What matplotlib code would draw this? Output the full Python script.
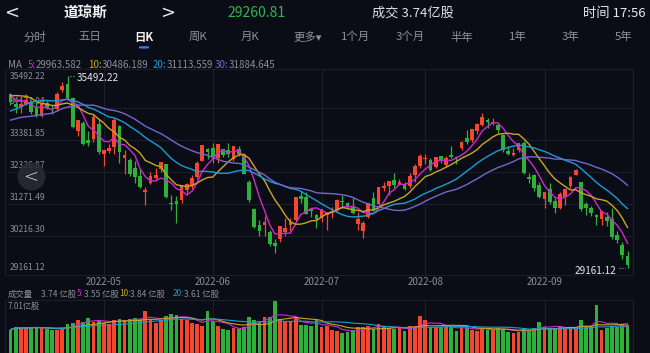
import numpy as np
import matplotlib
matplotlib.use('Agg')
import matplotlib.pyplot as plt
from matplotlib.patches import Ellipse, FancyBboxPatch
import matplotlib.transforms as mtransforms

plt.rcParams['font.family'] = ['Noto Sans CJK SC', 'DejaVu Sans']

# ---------------- data ----------------
# closes before the window (only used to warm up the moving averages)
warmup_close = [33596.61, 33131.76, 33223.83, 34058.75, 33892.60, 33294.95, 33891.35, 33794.66,
                33614.80, 32817.38, 32632.64, 33286.25, 33174.07, 32944.19, 32945.24, 33544.34,
                34063.10, 34480.76, 34754.93, 34552.99, 34807.46, 34358.50, 34707.94, 34861.24,
                34955.89, 35294.19, 35228.81, 34678.35, 34818.27, 34921.88]

closes = [34641.18, 34496.51, 34583.57, 34721.12, 34308.08, 34220.36, 34564.59, 34451.23, 34411.69,
          34911.20, 35160.79, 34792.76, 33811.40, 34049.46, 33240.18, 33301.93, 34160.78, 32977.21,
          33061.50, 33128.79, 34061.06, 32997.97, 32899.37, 32245.70, 32160.74, 31834.11, 31730.30,
          32196.66, 32223.42, 32654.59, 31490.07, 31253.13, 31261.90, 31880.24, 31928.62, 32120.28,
          32637.19, 33212.96, 32990.12,
          32813.23, 33248.28, 32899.70, 32915.78, 33180.14, 32910.90, 32272.79, 31392.79, 30516.74,
          30364.83, 30668.53, 29927.07, 29888.78, 30530.25, 30483.13, 30677.36, 31500.68, 31438.26,
          30946.99, 31029.31, 30775.43,
          31097.26, 30967.82, 31037.68, 31384.55, 31338.15, 31173.84, 30981.33, 30772.79, 30630.17,
          31288.26, 31072.61, 31827.05, 31874.84, 32036.90, 31899.29, 31990.04, 31761.54, 32197.59,
          32529.63, 32845.13,
          32798.40, 32396.17, 32812.50, 32726.82, 32803.47, 32832.54, 32774.41, 33309.51, 33336.67,
          33761.05, 33912.44, 34152.01, 33980.32, 33999.04, 33706.74, 33063.61, 32909.59, 32969.23,
          33291.78, 32283.40, 32098.99, 31790.87, 31510.43,
          31656.42, 31318.44, 31145.30, 31581.28, 31774.52, 32151.71, 32381.34, 31104.97, 31135.09,
          30961.82, 30822.42, 31019.68, 30706.23, 30183.78, 30076.68, 29590.41, 29260.81]

opens = [34897, 34580, 34470, 34575, 34650, 34496, 34177, 34618, 34414, 34414, 35028, 35257, 34774,
         33701, 33950, 33381, 33405, 33915,
         32931, 33027, 33145, 33860, 32780, 32727, 32452, 32209, 31653, 31960, 32134, 32430, 32580,
         31309, 31374, 31407, 31724, 31849, 32169, 32706, 33083,
         33128, 32788, 33080, 33054, 32759, 33084, 32849, 32000, 31100, 30587, 30580, 30328, 29974,
         30100, 30350, 30565, 30750, 31517, 31510, 31100, 30918,
         30794, 30900, 30960, 31065, 31380, 31290, 31200, 30617, 30380, 30848, 31450, 31265, 31810,
         31850, 32053, 31922, 31905, 31850, 32212, 32540,
         32745, 32722, 32500, 32840, 32569, 32900, 32830, 33125, 33460, 33400, 33685, 33894, 34053,
         33955, 33891, 33560, 33034, 32878, 33062, 33303, 32150, 32230, 31880,
         31448, 31757, 31352, 31150, 31500, 31859, 32240, 31990, 31250, 31150, 30900, 30755, 30830,
         30780, 30223, 29910, 29550]

highs = [34948, 34648, 34631, 34895, 34697, 34709, 34638, 34691, 34551, 34963, 35299, 35492.22, 34827,
         34055, 34020, 33674, 34235, 34073,
         33086, 33254, 34117, 33896, 33057, 32775, 32681, 32420, 31833, 32311, 32445, 32663, 32600,
         31579, 31528, 31902, 31968, 32217, 32699, 33213, 33130,
         33274, 33254, 33087, 33272, 33193, 33195, 32952, 32050, 31150, 30724, 30879, 30400, 30101,
         30553, 30807, 30805, 31509, 31709, 31672, 31146, 30942,
         31111, 31000, 31176, 31425, 31580, 31326, 31450, 30985, 30700, 31300, 31658, 31827, 32000,
         32036, 32281, 32081, 32004, 32300, 32590, 32910,
         32923, 32796, 32830, 32858, 32866, 33202, 32867, 33365, 33708, 33762, 33961, 34281, 34118,
         34113, 33945, 33600, 33172, 33111, 33300, 33364, 32290, 32273, 32000,
         31674, 31965, 31481, 31652, 31802, 32180, 32434, 32000, 31330, 31200, 30950, 31038, 31000,
         31125, 30380, 30000, 29700]

lows = [34546, 34277, 34289, 34540, 34253, 34161, 34155, 34424, 34263, 34355, 34961, 34706, 33776,
        33528, 33230, 33190, 33334, 32913,
        32537, 32970, 32937, 32632, 32273, 32198, 31958, 31806, 31228, 31937, 32051, 32332, 31453,
        31060, 30635.76, 31311, 31605, 31766, 32106, 32700, 32741,
        32626, 32635, 32839, 32823, 32694, 32840, 32270, 31339, 30478, 30206, 30221, 29861, 29653,
        30011, 30213, 30366, 30700, 31304, 30932, 30846, 30468,
        30686, 30400, 30808, 31000, 31150, 31098, 30950, 30400, 30143, 30800, 31020, 31200, 31700,
        31560, 31800, 31884, 31743, 31790, 32000, 32470,
        32600, 32371, 32471, 32614, 32484, 32789, 32596, 33040, 33262, 33327, 33570, 33849, 33770,
        33870, 33626, 32976, 32903, 32865, 33000, 32260, 31963, 31702, 31480,
        31150, 31270, 30977, 31092, 31234, 31800, 32216, 31050, 30900, 30857, 30587, 30587, 30550,
        30117, 29975, 29439, 29161.12]

# volume in 亿股
volumes = [3.1, 3.5, 3.3, 3.4, 3.4, 3.4, 3.3, 3.2, 3.0, 3.1, 3.3, 3.9, 4.0, 4.4, 4.1, 4.6, 4.1, 4.4,
           4.0, 3.8, 4.3, 4.5, 4.3, 4.5, 4.6, 4.5, 5.5, 4.5, 4.0, 4.3, 4.9, 5.2, 5.0, 4.5, 4.3, 4.0,
           3.8, 3.6, 5.6,
           4.2, 3.6, 3.2, 3.0, 3.3, 3.2, 3.4, 4.8, 4.4, 4.2, 4.8, 4.7, 7.01, 4.5, 4.1, 4.1, 4.6, 3.7,
           3.7, 3.6, 4.3,
           3.4, 3.6, 3.1, 2.9, 2.6, 2.8, 3.0, 3.4, 3.5, 3.6, 3.2, 3.9, 3.4, 3.3, 3.2, 3.3, 2.9, 3.6,
           3.6, 4.9,
           4.3, 3.5, 3.4, 3.5, 3.5, 3.4, 2.9, 3.4, 3.4, 3.1, 2.9, 3.3, 3.1, 3.0, 3.3, 3.2, 2.8, 2.6,
           2.8, 3.3, 3.0, 3.3, 4.1,
           3.5, 3.3, 3.3, 3.4, 3.3, 3.3, 3.3, 4.4, 3.4, 3.5, 6.35, 3.0, 3.3, 3.5, 3.4, 3.81, 3.74]

month_idx = [18, 39, 60, 80, 103]
month_labels = ['2022-05', '2022-06', '2022-07', '2022-08', '2022-09']
price_labels = [35492.22, 34437.04, 33381.85, 32326.87, 31271.49, 30216.30, 29161.12]
ma_periods = [5, 10, 20, 30]
vol_ma_periods = [5, 10, 20]
tabs = ['分时', '五日', '日K', '周K', '月K', '更多▾', '1个月', '3个月', '半年', '1年', '3年', '5年']

# ---------------- style ----------------
BG = '#0b0d16'
GRID = '#1b1e2a'
RED = '#f5472f'
GREEN = '#2fb03c'
MA_COLORS = {5: '#cf28cf', 10: '#c9a624', 20: '#1c9bd1', 30: '#7466d0'}
TXT = '#8b8e99'

W, H = 650, 353
fig = plt.figure(figsize=(W / 100, H / 100), dpi=100, facecolor=BG)
renderer = fig.canvas.get_renderer()


def fx(x):
    return x / W


def fy(y):
    return 1 - y / H


def text_px(xp, yp, s, **kw):
    t = fig.text(fx(xp), fy(yp), s, ha='left', va='center', **kw)
    return xp + t.get_window_extent(renderer).width


n = len(closes)
assert len(opens) == n and len(highs) == n and len(lows) == n and len(volumes) == n
x = np.arange(n)
o = np.array(opens, float)
c = np.array(closes, float)
h = np.array(highs, float)
l = np.array(lows, float)
v = np.array(volumes, float)
up = c >= o
cols = np.where(up, RED, GREEN)

XL = (-1.06, 120.06)

# ---------------- price panel ----------------
top_px, bot_px = 69.3, 275.0
ax = fig.add_axes([fx(5), fy(bot_px), fx(628), (bot_px - top_px) / H])
ax.set_facecolor(BG)
ax.set_xlim(*XL)
ax.set_ylim(28914, 35729)
for s in ax.spines.values():
    s.set_color(GRID)
    s.set_linewidth(0.8)
ax.set_xticks([])
ax.set_yticks([])
for pv in price_labels[1:-1]:
    ax.axhline(pv, color=GRID, lw=0.8, zorder=0)
for mi in month_idx:
    ax.axvline(mi, color=GRID, lw=0.8, zorder=0)

# axis value labels (drawn beneath the candles)
ytr = mtransforms.blended_transform_factory(ax.transAxes, ax.transData)
for k, pv in enumerate(price_labels):
    va = 'center' if k in (0, len(price_labels) - 1) else 'bottom'
    ax.text(5 / 628, pv + (0 if va == 'center' else 60), f'{pv:.2f}', transform=ytr,
            ha='left', va=va, color=TXT, fontsize=6.2, zorder=1)

# moving averages
all_close = np.array(warmup_close + closes, float)
nw = len(warmup_close)
for p in ma_periods:
    ma = np.convolve(all_close, np.ones(p) / p, mode='valid')
    ma_x = np.arange(p - 1, len(all_close)) - nw
    m = ma_x >= 0
    ax.plot(ma_x[m], ma[m], color=MA_COLORS[p], lw=1.0, zorder=4)

# candles
ax.vlines(x, l, h, colors=cols, lw=0.9, zorder=2)
body = np.maximum(np.abs(c - o), 18)
ax.bar(x, body, bottom=np.minimum(o, c), width=0.72, color=cols, zorder=3, linewidth=0)

# max / min annotations
imax = int(np.argmax(h))
imin = int(np.argmin(l))
ax.plot([imax + 0.45, imax + 1.5], [h[imax]] * 2, ls=(0, (1, 1.5)), color='#9a9ca6', lw=0.8, zorder=5)
ax.text(imax + 1.75, h[imax] - 60, f'{h[imax]:.2f}', color='#e6e7ea', fontsize=7.2,
        ha='left', va='center', zorder=6)
ax.plot([imin - 1.6, imin - 0.45], [l[imin]] * 2, ls=(0, (1, 1.5)), color='#9a9ca6', lw=0.8, zorder=5)
ax.text(imin - 2.1, l[imin] - 120, f'{l[imin]:.2f}', color='#e6e7ea', fontsize=7.2,
        ha='right', va='center', zorder=6)

# month labels
tr = mtransforms.blended_transform_factory(ax.transData, fig.transFigure)
for mi, ml in zip(month_idx, month_labels):
    ax.text(mi, fy(282), ml, transform=tr, ha='center', va='center', color=TXT, fontsize=7,
            clip_on=False)

# round back button
circ = Ellipse((fx(31.5), fy(176.5)), width=28 / W, height=28 / H, transform=fig.transFigure,
               facecolor='#2a2c35', edgecolor='none', alpha=0.9, zorder=10)
fig.patches.append(circ)
fig.text(fx(31), fy(176.5), '<', color='#e0e0e4', fontsize=13, ha='center', va='center',
         family='DejaVu Sans', fontweight='light', zorder=11)

# MA header (app shows values rounded half-down)
text_px(8, 65, 'MA', color=TXT, fontsize=7)
ma_pos = {5: 28, 10: 88, 20: 153, 30: 215}
for p in ma_periods:
    ma_last = all_close[-p:].mean()
    xe = text_px(ma_pos[p], 65, f'{p}:', color=MA_COLORS[p], fontsize=7)
    text_px(xe, 65, f'{ma_last - 5e-7:.3f}', color=TXT, fontsize=7)

# ---------------- volume panel ----------------
vtop, vbot = 300.0, 353.0
axv = fig.add_axes([fx(5), fy(vbot), fx(628), (vbot - vtop) / H])
axv.set_facecolor(BG)
axv.set_xlim(*XL)
axv.set_ylim(0, v.max())
for s in axv.spines.values():
    s.set_color(GRID)
    s.set_linewidth(0.8)
axv.set_xticks([])
axv.set_yticks([])
for mi in month_idx:
    axv.axvline(mi, color=GRID, lw=0.8, zorder=0)
axv.bar(x, v, width=0.72, color=cols, linewidth=0, zorder=2)
for p in vol_ma_periods:
    vm = np.array([v[max(0, i - p + 1):i + 1].mean() for i in range(n)])
    axv.plot(x, vm, color=MA_COLORS[p], lw=0.8, zorder=3)

text_px(8, 306, f'{v.max():.2f}亿股', color=TXT, fontsize=5.9)

# volume header
text_px(8, 294, '成交量', color=TXT, fontsize=6)
text_px(41, 294, f'{v[-1]:.2f} 亿股', color=TXT, fontsize=6)
vpos = {5: 77, 10: 119, 20: 173}
for p in vol_ma_periods:
    xe = text_px(vpos[p], 294, f'{p}:', color=MA_COLORS[p], fontsize=6)
    text_px(xe, 294, f'{v[-p:].mean():.2f} 亿股', color=TXT, fontsize=6)

# ---------------- header ----------------
fig.text(fx(12), fy(13), '<', color='#e8e8ec', fontsize=13, ha='center', va='center', family='DejaVu Sans')
fig.text(fx(86), fy(13), '道琼斯', color='#f0f0f2', fontsize=10.5, ha='center', va='center', fontweight='bold')
fig.text(fx(168), fy(13), '>', color='#e8e8ec', fontsize=13, ha='center', va='center', family='DejaVu Sans')
fig.text(fx(256), fy(13), f'{c[-1]:.2f}', color='#2fb64c', fontsize=10, ha='center', va='center')
fig.text(fx(413), fy(13), f'成交 {v[-1]:.2f}亿股', color='#e0e0e4', fontsize=9.5, ha='center', va='center')
fig.text(fx(646), fy(13), '时间 17:56', color='#e8e8ec', fontsize=9.5, ha='right', va='center')

tab_x = [35, 90, 144, 198, 250, 308, 356, 410, 462, 518, 571, 624]
for t, tx in zip(tabs, tab_x):
    sel = (t == '日K')
    fig.text(fx(tx), fy(37), t, color='#f2f2f4' if sel else '#8e909b', fontsize=8.2,
             ha='center', va='center', fontweight='bold' if sel else 'normal')
ul = FancyBboxPatch((fx(139), fy(48.5)), fx(10), 2.2 / H, boxstyle='round,pad=0,rounding_size=0.002',
                    transform=fig.transFigure, facecolor='#3b7cf6', edgecolor='none')
fig.patches.append(ul)

fig.savefig('out.png', dpi=100, facecolor=BG)
